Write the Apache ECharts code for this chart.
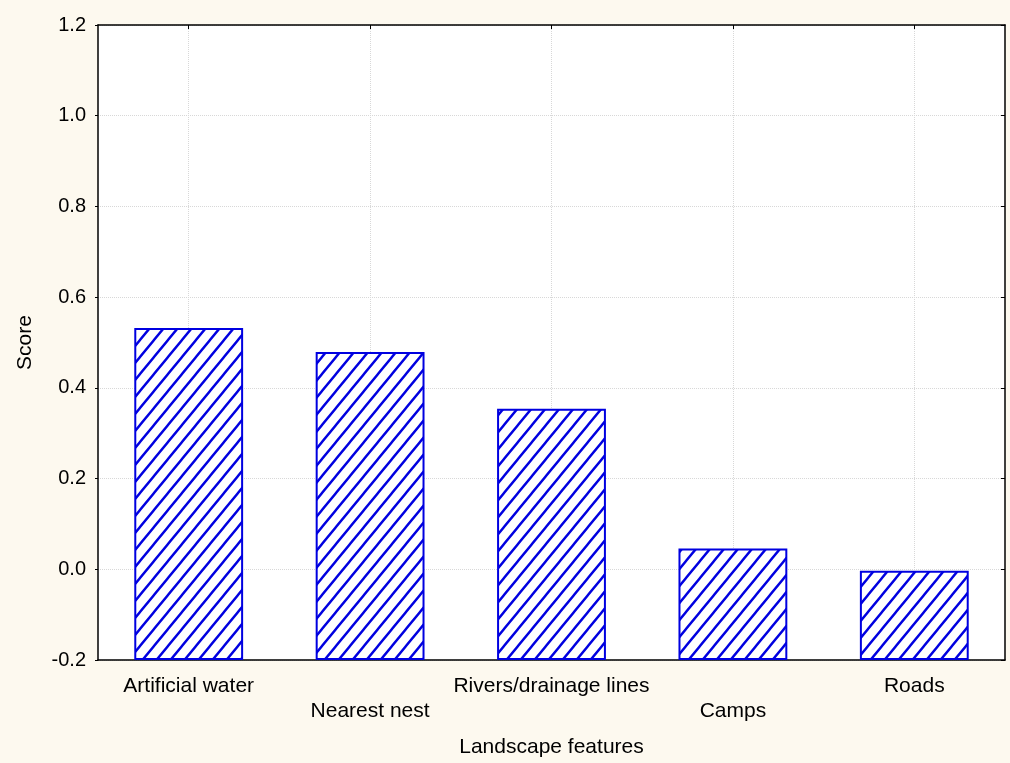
<!DOCTYPE html>
<html>
<head>
<meta charset="utf-8">
<script src="https://cdn.jsdelivr.net/npm/echarts@6/dist/echarts.min.js"></script>
<style>
html,body{margin:0;padding:0;background:#fdf9ef;width:100%;height:100%;overflow:hidden;}
#c{width:100vw;height:100vh;}
</style>
</head>
<body>
<div id="c"></div>
<script>
const categories = ['Artificial water', 'Nearest nest', 'Rivers/drainage lines', 'Camps', 'Roads'];
const scores = [0.532, 0.479, 0.354, 0.046, -0.003];
const yTicks = [-0.2, 0.0, 0.2, 0.4, 0.6, 0.8, 1.0, 1.2];

function hatch() {
  const W = 14, H = 17;
  const cv = document.createElement('canvas');
  cv.width = W; cv.height = H;
  const g = cv.getContext('2d');
  g.fillStyle = '#ffffff';
  g.fillRect(0, 0, W, H);
  g.strokeStyle = '#0000e0';
  g.lineWidth = 2.4;
  g.beginPath();
  for (let k = -1; k <= 1; k++) {
    g.moveTo(k * W - 3 * W / H, H + 3);
    g.lineTo(k * W + W + 3 * W / H, -3);
  }
  g.stroke();
  return cv;
}

const chart = echarts.init(document.getElementById('c'));
const font = 'Liberation Sans, Arial, sans-serif';
chart.setOption({
  backgroundColor: '#fdf9ef',
  animation: false,
  grid: { left: 98, right: 5, top: 25, bottom: 99, show: true, backgroundColor: '#ffffff', borderWidth: 0 },
  xAxis: [{
    type: 'category',
    data: categories,
    position: 'bottom',
    name: 'Landscape features',
    nameLocation: 'middle',
    nameGap: 77,
    nameTextStyle: { color: '#000', fontSize: 21, fontFamily: font },
    axisLine: { onZero: false, lineStyle: { color: '#000', width: 1.5 } },
    axisTick: { show: true, inside: true, alignWithLabel: true, length: 4, lineStyle: { color: '#000' } },
    axisLabel: {
      color: '#000', fontSize: 21, fontFamily: font, margin: 14, lineHeight: 25, interval: 0,
      formatter: function (v, i) { return i % 2 === 1 ? '\n' + v : v; }
    },
    splitLine: { show: true, alignWithLabel: true, lineStyle: { color: '#d8d8d8', type: 'dotted' } }
  }, {
    type: 'category',
    data: categories,
    position: 'top',
    axisLine: { onZero: false, lineStyle: { color: '#000', width: 1.5 } },
    axisTick: { show: true, inside: true, alignWithLabel: true, length: 4, lineStyle: { color: '#000' } },
    axisLabel: { show: false },
    splitLine: { show: false }
  }],
  yAxis: [{
    type: 'value',
    min: -0.2, max: 1.2, interval: 0.2,
    startValue: -0.2,
    name: 'Score',
    nameLocation: 'middle',
    nameGap: 62,
    nameTextStyle: { color: '#000', fontSize: 21, fontFamily: font },
    axisLine: { show: true, onZero: false, lineStyle: { color: '#000', width: 1.5 } },
    axisTick: { show: true, inside: false, length: 3, lineStyle: { color: '#000' } },
    axisLabel: { color: '#000', fontSize: 20, fontFamily: font, margin: 12, formatter: function (v) { return v.toFixed(1); } },
    splitLine: { show: true, lineStyle: { color: '#d8d8d8', type: 'dotted' } }
  }, {
    type: 'value',
    min: -0.2, max: 1.2, interval: 0.2,
    position: 'right',
    axisLine: { show: true, onZero: false, lineStyle: { color: '#000', width: 1.5 } },
    axisTick: { show: true, inside: true, length: 4, lineStyle: { color: '#000' } },
    axisLabel: { show: false },
    splitLine: { show: false }
  }],
  series: [{
    type: 'bar',
    data: scores,
    barWidth: '60%',
    itemStyle: {
      color: { image: hatch(), repeat: 'repeat' },
      borderColor: '#0000e0',
      borderWidth: 2
    }
  }]
});
</script>
</body>
</html>
